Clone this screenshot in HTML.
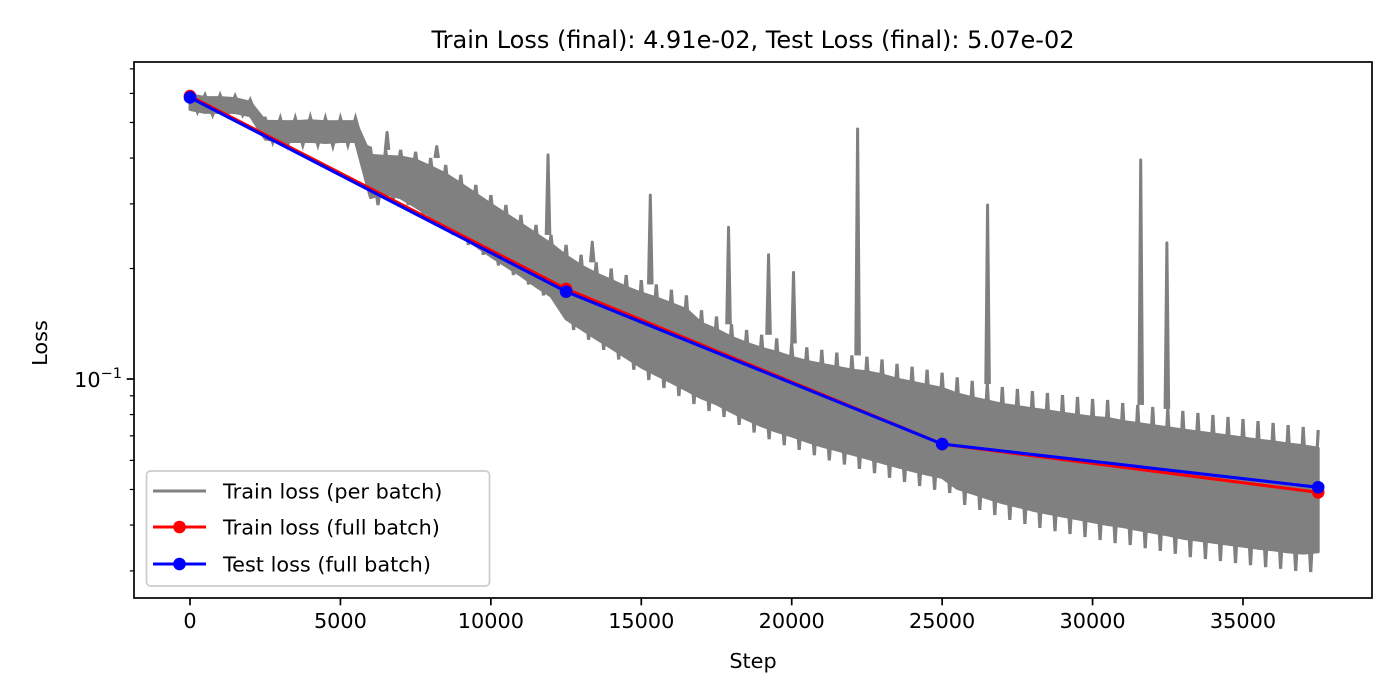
<!DOCTYPE html>
<html><head><meta charset="utf-8">
<style>
html,body{margin:0;padding:0;background:#fff;}
svg{display:block;font-family:"DejaVu Sans","Liberation Sans",sans-serif;}
</style></head>
<body>
<svg id="chart" width="1400" height="700" viewBox="0 0 1400 700">
<rect x="0" y="0" width="1400" height="700" fill="#fff"/>
<text x="753" y="48" font-size="24" text-anchor="middle" fill="#000">Train Loss (final): 4.91e-02, Test Loss (final): 5.07e-02</text>
<g id="plot"></g>
<g id="axes"></g>
<text x="753" y="668" font-size="20.8" text-anchor="middle">Step</text>
<text x="0" y="0" font-size="20.8" text-anchor="middle" transform="translate(47,343) rotate(-90)">Loss</text>
<g id="legend"></g>
</svg>
<script>
// per-batch envelope, every 500 steps from 0 to 37500
const batchSteps0 = 0, batchStepSize = 500;
const batchHigh = [0.605,0.594,0.594,0.590,0.576,0.514,0.514,0.514,0.517,0.514,0.514,0.514,
0.426,0.421,0.421,0.416,0.400,0.383,0.360,0.338,0.317,0.298,0.280,0.263,0.247,0.232,0.218,0.208,0.200,0.192,
0.186,0.181,0.175,0.169,0.154,0.148,0.141,0.136,0.132,0.129,0.125,0.122,0.120,0.118,0.116,0.115,0.113,0.110,0.108,0.106,
0.104,0.101,0.0988,0.0969,0.0951,0.0939,0.0927,0.0916,0.0904,0.0893,0.0882,0.0877,0.0860,0.0850,0.0839,0.0829,0.0818,0.0808,
0.0798,0.0788,0.0778,0.0768,0.0759,0.0749,0.0740,0.0726];
const batchLow = [0.534,0.524,0.524,0.524,0.514,0.442,0.434,0.434,0.434,0.431,0.434,0.434,
0.298,0.307,0.298,0.280,0.263,0.247,0.232,0.218,0.204,0.192,0.181,0.169,0.159,0.136,0.128,0.120,0.113,0.106,
0.0994,0.0945,0.0899,0.0855,0.0818,0.0788,0.0750,0.0715,0.0685,0.0660,0.0641,0.0620,0.0600,0.0585,0.0569,0.0554,0.0538,0.0524,0.0511,0.0499,
0.0489,0.0454,0.0440,0.0426,0.0413,0.0403,0.0393,0.0385,0.0378,0.0371,0.0364,0.0357,0.0353,0.0346,0.0340,0.0334,0.0327,0.0323,
0.0319,0.0315,0.0311,0.0307,0.0304,0.0300,0.0298,0.0302];
const spikeSteps = [6550,8200,11900,13370,15300,17900,19230,20060,22190,26510,31600,32470];
const spikeValues = [0.47,0.43,0.408,0.236,0.317,0.259,0.218,0.195,0.480,0.298,0.395,0.235];
const evalSteps = [0,12500,25000,37500];
const trainFull = [0.59,0.176,0.0665,0.0491];
const testFull = [0.585,0.173,0.0665,0.0507];
const xTicks = [0,5000,10000,15000,20000,25000,30000,35000];
const yMinorTicks = [0.03,0.04,0.05,0.06,0.07,0.08,0.09,0.2,0.3,0.4,0.5,0.6,0.7];

const NS="http://www.w3.org/2000/svg";
const L=134,R=1372,T=62,B=598;
function xs(s){return 190+s*(1243-190)/35000;}
function ys(v){return 379-(Math.log10(v)+1)*367;}
function mk(tag,attrs,parent){const e=document.createElementNS(NS,tag);for(const k in attrs)e.setAttribute(k,attrs[k]);parent.appendChild(e);return e;}
const plot=document.getElementById('plot'), axes=document.getElementById('axes'), legend=document.getElementById('legend');

// band: solid inner core + full-range zigzag
let fwd=[],back=[],zig=[];
const inset=0.13;
for(let i=0;i<batchHigh.length;i++){
  const s=batchSteps0+i*batchStepSize;
  const yh=ys(batchHigh[i]), yl=ys(batchLow[i]);
  const d=yl-yh;
  fwd.push(xs(s).toFixed(1)+','+(yh+d*inset).toFixed(1));
  back.unshift(xs(s).toFixed(1)+','+(yl-d*inset).toFixed(1));
  zig.push(xs(s).toFixed(1)+','+yh.toFixed(1));
  if(i<batchHigh.length-1) zig.push(xs(s+batchStepSize/2).toFixed(1)+','+yl.toFixed(1));
}
const band=mk('polygon',{points:fwd.concat(back).join(' '),fill:'#808080',stroke:'#808080','stroke-width':3,'stroke-linejoin':'round'},plot);


const zl=mk('polyline',{points:zig.join(' '),fill:'none',stroke:'#808080','stroke-width':3.2},plot);


for(let j=0;j<spikeSteps.length;j++){
  const s=spikeSteps[j];
  const idx=Math.round((s-batchSteps0)/batchStepSize);
  const base=batchHigh[Math.min(idx,batchHigh.length-1)];
  const sp=mk('polyline',{points:xs(s-60)+','+ys(base)+' '+xs(s)+','+ys(spikeValues[j])+' '+xs(s+60)+','+ys(base),fill:'#808080',stroke:'#808080','stroke-width':3,'stroke-linejoin':'round'},plot);
  
  
}
function series(vals,color,name){
  const pts=evalSteps.map((s,i)=>xs(s).toFixed(1)+','+ys(vals[i]).toFixed(1)).join(' ');
  const pl=mk('polyline',{points:pts,fill:'none',stroke:color,'stroke-width':3.1},plot);
  
  
  evalSteps.forEach((s,i)=>{
    const c=mk('circle',{cx:xs(s),cy:ys(vals[i]),r:6.3,fill:color},plot);
    
    
  });
}
series(trainFull,'#ff0000','train-full-batch');
series(testFull,'#0000ff','test-full-batch');

// axes frame
const fr=mk('rect',{x:L,y:T,width:R-L,height:B-T,fill:'none',stroke:'#000','stroke-width':1.7},axes);


xTicks.forEach(t=>{
  const x=xs(t);
  const tk=mk('line',{x1:x,y1:B,x2:x,y2:B+7.3,stroke:'#000','stroke-width':1.7},axes);
  
  
  const lb=mk('text',{x:x,y:B+30,'font-size':20.8,'text-anchor':'middle'},axes);
  lb.textContent=t;
  
  
});
const ymj=mk('line',{x1:L-7.3,y1:ys(0.1),x2:L,y2:ys(0.1),stroke:'#000','stroke-width':1.7},axes);


const ylb=mk('text',{x:L-12,y:ys(0.1)+8,'font-size':20.8,'text-anchor':'end'},axes);
ylb.innerHTML='10<tspan dy="-9" font-size="14.5">−1</tspan>';


yMinorTicks.forEach(v=>{
  const m=mk('line',{x1:L-4.2,y1:ys(v),x2:L,y2:ys(v),stroke:'#000','stroke-width':1.2},axes);
  
  
});

// legend
const lbox=mk('rect',{x:146.5,y:471,width:343,height:115,rx:4,fill:'#fff','fill-opacity':0.8,stroke:'#cccccc','stroke-width':1.7},legend);


const entries=[['Train loss (per batch)','#808080',false,491,'legend-entry-per-batch'],['Train loss (full batch)','#ff0000',true,527,'legend-entry-train-full'],['Test loss (full batch)','#0000ff',true,564,'legend-entry-test-full']];
entries.forEach(e=>{
  const g=mk('g',{},legend);
  
  
  mk('line',{x1:153,y1:e[3],x2:206,y2:e[3],stroke:e[1],'stroke-width':3.1},g);
  if(e[2]) mk('circle',{cx:179.5,cy:e[3],r:6.3,fill:e[1]},g);
  const t=mk('text',{x:223,y:e[3]+7.5,'font-size':20.8},g);
  t.textContent=e[0];
});
</script>
</body></html>
